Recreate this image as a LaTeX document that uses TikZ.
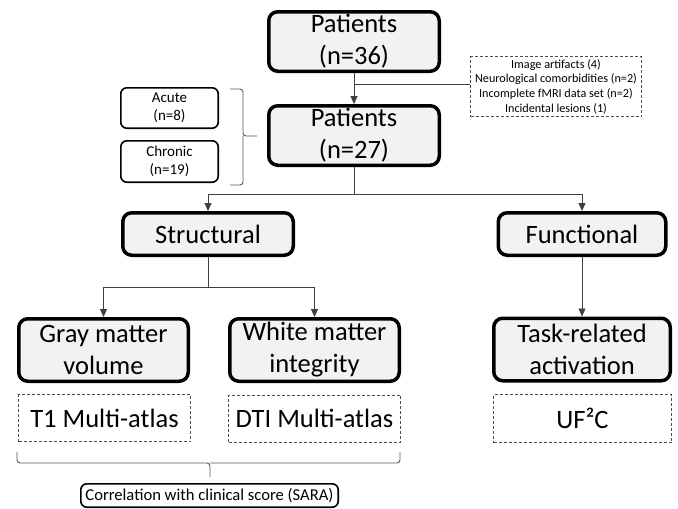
\documentclass[tikz,border=0pt]{standalone}
\usepackage{fontspec}
\setmainfont{Carlito}
\usetikzlibrary{arrows.meta}

\tikzset{
  caja/.style={draw, line width=3.5pt, rounded corners=9pt, fill=gray!10, align=center, inner sep=0pt, font=\fontsize{26.5}{32}\selectfont},
  rayas/.style={draw=black!70, line width=0.8pt, dash pattern=on 3pt off 2pt, align=center, inner sep=0pt, font=\fontsize{26.5}{32}\selectfont},
  cajita/.style={draw, line width=1.6pt, rounded corners=6pt, fill=white, align=center, inner sep=0pt, font=\fontsize{15}{18}\selectfont},
  flecha/.style={draw=black!75, line width=0.9pt, -{Triangle[length=8pt,width=7pt]}},
  linea/.style={draw=black!75, line width=0.9pt},
  llave/.style={draw=black!65, line width=0.9pt, rounded corners=3pt},
}

\begin{document}
\begin{tikzpicture}[x=1pt, y=-1pt]
	\useasboundingbox (0,0) rectangle (678,509);

	% Pacientes
	\node[caja, minimum width=170.5pt, minimum height=59.5pt] (p36) at (354,41.5) {Patients\\(n=36)};
	\node[caja, minimum width=170.5pt, minimum height=59.5pt] (p27) at (354,135.5) {Patients\\(n=27)};
	\draw[flecha] (p36) -- (p27);

	% Exclusiones
	\node[rayas, font=\fontsize{12.2}{14.6}\selectfont, minimum width=171pt, minimum height=60pt] (excl) at (556,86.5) {Image artifacts (4)\\Neurological comorbidities (n=2)\\Incomplete fMRI data set (n=2)\\Incidental lesions (1)};
	\coordinate (c1) at (354,84);
	\draw[linea] (c1) -- (c1 -| excl.west);

	% Grupos
	\node[cajita, minimum width=97.4pt, minimum height=40.4pt] (acute) at (169.5,108) {Acute\\(n=8)};
	\node[cajita, minimum width=97.4pt, minimum height=41.4pt] (chronic) at (169.5,161.5) {Chronic\\(n=19)};
	\draw[llave] (230,89) -| (243,136) -- (257,136);
	\draw[llave] (230,185) -| (243,136);

	% Estructural y funcional
	\node[caja, minimum width=170.5pt, minimum height=42.5pt] (struct) at (208,234) {Structural};
	\node[caja, minimum width=167.5pt, minimum height=42.5pt] (func) at (582,234) {Functional};
	\coordinate (c2) at (354,194);
	\draw[linea] (p27) -- (c2);
	\draw[flecha] (c2) -| (struct);
	\draw[flecha] (c2) -| (func);

	% Medidas
	\node[caja, minimum width=169.5pt, minimum height=62.5pt] (gm) at (103.5,350) {Gray matter\\volume};
	\node[caja, minimum width=169.5pt, minimum height=62.5pt] (wm) at (314.5,350) {White matter\\integrity};
	\node[caja, minimum width=176.5pt, minimum height=62.5pt] (task) at (582,349.5) {Task-related\\activation};
	\coordinate (c3) at (208,287);
	\draw[linea] (struct) -- (c3);
	\draw[flecha] (c3) -| (gm);
	\draw[flecha] (c3) -| (wm);
	\draw[flecha] (func) -- (task);

	% Metodos
	\node[rayas, minimum width=172pt, minimum height=47pt] (t1) at (104.5,418) {T1 Multi-atlas};
	\node[rayas, minimum width=172pt, minimum height=47pt] (dti) at (314.5,418.5) {DTI Multi-atlas};
	\node[rayas, minimum width=178pt, minimum height=48pt] (uf) at (582.5,418.5) {UF²C};

	% Correlacion
	\node[cajita, font=\fontsize{16.6}{20}\selectfont, minimum width=257.4pt, minimum height=23.4pt] (corr) at (209.5,495.5) {Correlation with clinical score (SARA)};
	\draw[llave] (17,452) |- (210,463) -- (210,477);
	\draw[llave] (400,452) |- (210,463);
\end{tikzpicture}
\end{document}
